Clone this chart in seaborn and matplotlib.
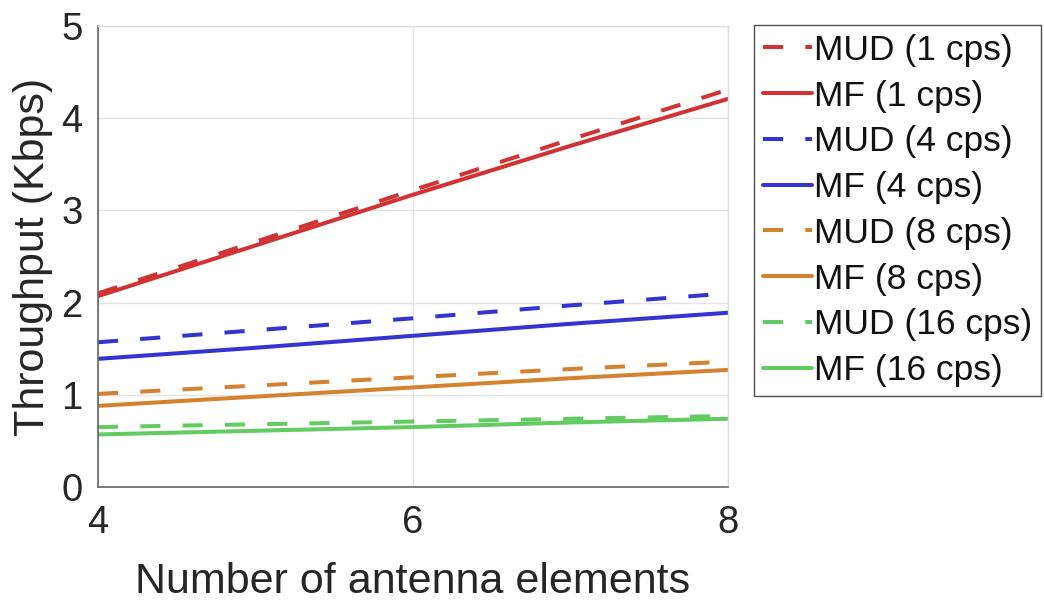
import numpy as np
import pandas as pd
import matplotlib
matplotlib.use("Agg")
import matplotlib.pyplot as plt
import seaborn as sns

antennas = [4, 5, 6, 7, 8]
mud_1 = [2.10, 2.66, 3.22, 3.77, 4.31]
mf_1 = [2.07, 2.62, 3.17, 3.70, 4.21]
mud_4 = [1.57, 1.70, 1.83, 1.97, 2.10]
mf_4 = [1.39, 1.51, 1.64, 1.77, 1.89]
mud_8 = [1.01, 1.10, 1.19, 1.28, 1.36]
mf_8 = [0.88, 0.98, 1.08, 1.18, 1.27]
mud_16 = [0.65, 0.68, 0.71, 0.74, 0.77]
mf_16 = [0.57, 0.61, 0.65, 0.70, 0.74]

labels = ["MUD (1 cps)", "MF (1 cps)", "MUD (4 cps)", "MF (4 cps)",
          "MUD (8 cps)", "MF (8 cps)", "MUD (16 cps)", "MF (16 cps)"]
series = [mud_1, mf_1, mud_4, mf_4, mud_8, mf_8, mud_16, mf_16]

red = "#D13334"
blue = "#3434D0"
orange = "#D4822F"
green = "#62CC62"
colors = [red, red, blue, blue, orange, orange, green, green]

rows = []
for lab, vals in zip(labels, series):
    for x, y in zip(antennas, vals):
        rows.append({"Antennas": x, "Throughput": y, "Series": lab})
df = pd.DataFrame(rows)

sns.set_theme(style="white")
plt.rcParams['font.family'] = ['Liberation Sans', 'DejaVu Sans']

fig = plt.figure(figsize=(10.44, 6.01), dpi=100)
ax = fig.add_axes([98/1044, 1 - 487/601, (728-98)/1044, (487-26)/601])

LW = 2.9
palette = dict(zip(labels, colors))
dashes = {lab: ((5.0, 5.5) if lab.startswith("MUD") else "") for lab in labels}

sns.lineplot(data=df, x="Antennas", y="Throughput", hue="Series", style="Series",
             hue_order=labels, style_order=labels, palette=palette, dashes=dashes,
             linewidth=LW, ax=ax, legend=True)

ax.set_xlim(4, 8)
ax.set_ylim(0, 5)
ax.set_xticks([4, 6, 8])
ax.set_yticks([0, 1, 2, 3, 4, 5])
ax.grid(True, color="#E3E3E3", linewidth=1.0)
ax.set_axisbelow(True)
for s in ["left", "bottom"]:
    ax.spines[s].set_color("#666666")
    ax.spines[s].set_linewidth(1.2)
for s in ["top", "right"]:
    ax.spines[s].set_color("#DDDDDD")
    ax.spines[s].set_linewidth(1.0)
ax.tick_params(axis="both", direction="in", length=5, width=1, color="#444444",
               labelsize=27.5, labelcolor="#262626")
ax.tick_params(axis="x", pad=13)
ax.tick_params(axis="y", pad=11)
ax.set_xlabel("Number of antenna elements", fontsize=31, labelpad=15, color="#262626")
ax.set_ylabel("Throughput (Kbps)", fontsize=31, labelpad=6, color="#262626")

handles, labs = ax.get_legend_handles_labels()
leg = ax.legend(handles, labs, loc="upper left", bbox_to_anchor=(754/1044, 1 - 25/601),
                bbox_transform=fig.transFigure, fontsize=25.5, frameon=True,
                fancybox=False, edgecolor="#222222", handlelength=1.4,
                handletextpad=0.05, labelspacing=0.36, borderpad=0.25, borderaxespad=0)
leg.get_frame().set_linewidth(1.0)
for line in leg.get_lines():
    line.set_linewidth(LW)
for t in leg.get_texts():
    t.set_color("#111111")

fig.savefig("out.png", dpi=100)
